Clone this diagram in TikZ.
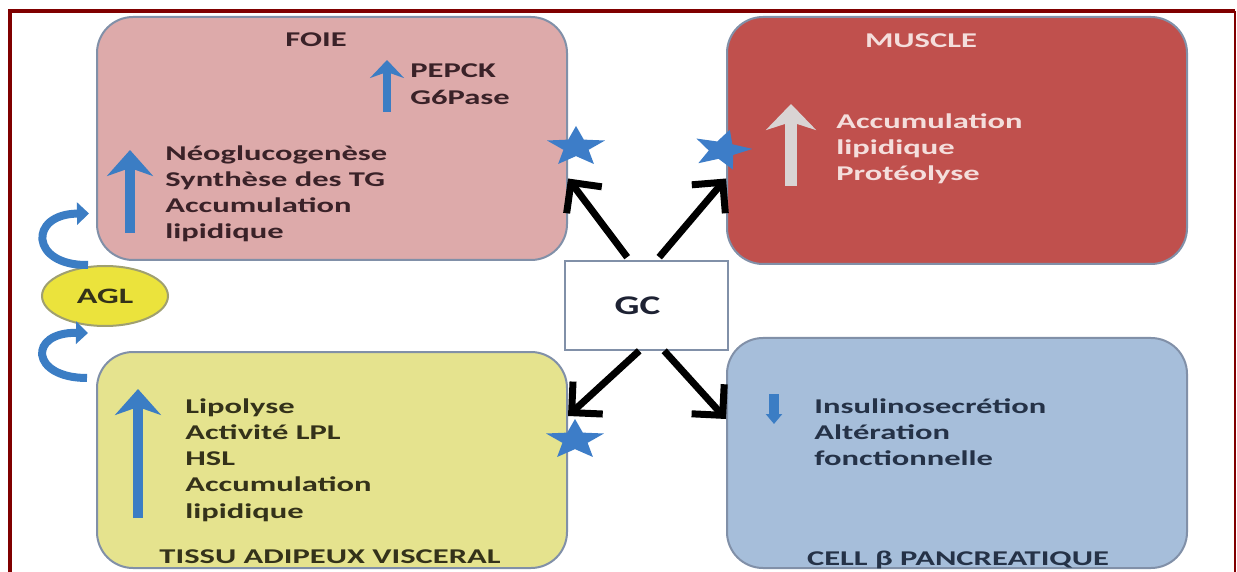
\documentclass[tikz,border=0pt]{standalone}
\usepackage{fontspec}
\newfontfamily\figfont{Carlito}[FakeStretch=1.55]
\newfontfamily\gcfont{Carlito}[FakeStretch=1.45]
\usetikzlibrary{arrows.meta,shapes.geometric,calc}

\definecolor{framered}{HTML}{800000}
\definecolor{boxline}{HTML}{8190A8}
\definecolor{foiefill}{HTML}{DDAAAA}
\definecolor{musclefill}{HTML}{C0504D}
\definecolor{tissufill}{HTML}{E5E38E}
\definecolor{cellfill}{HTML}{A6BEDA}
\definecolor{foietext}{HTML}{3A2228}
\definecolor{tissutext}{HTML}{34321A}
\definecolor{celltext}{HTML}{253247}
\definecolor{muscletext}{HTML}{F4DEDC}
\definecolor{arrowblue}{HTML}{3B7DC4}
\definecolor{starblue}{HTML}{3D7DC8}
\definecolor{palegrey}{HTML}{D9D4D4}
\definecolor{aglfill}{HTML}{EBE33C}
\definecolor{aglline}{HTML}{A0A070}
\definecolor{gctext}{HTML}{1E2233}

\begin{document}
\begin{tikzpicture}[x=0.5pt,y=-0.5pt,
  organ/.style={draw=boxline, line width=1pt, rounded corners=18pt, inner sep=0pt},
  txt/.style={font=\figfont\bfseries\fontsize{10.5}{12.6}\selectfont, inner sep=0pt, anchor=base west},
  title/.style={txt, anchor=base},
  blockarrow/.style={draw=arrowblue, line width=5pt, -{Stealth[length=13pt,width=23pt,inset=4pt]}},
  gcarrow/.style={draw=black, line width=3.5pt, -{Straight Barb[length=11pt,width=22pt]}},
  starmark/.style={star, star points=5, star point ratio=2.3, fill=starblue, inner sep=0pt, minimum size=21pt, xscale=1.45},
  loopback/.style={draw=arrowblue, line width=4pt, -{Triangle[length=6pt,width=11pt]}},
]
\useasboundingbox (0,0) rectangle (1237,572);
\fill[white] (0,0) rectangle (1237,572);

% outer frame
\draw[framered, line width=2pt] (10,572) -- (10,11) -- (1235,11);
\draw[framered, line width=1pt] (1235,11) -- (1235,572);

% organ boxes
\node[organ, fill=foiefill, minimum width=235pt, minimum height=121.5pt] (foie) at (332,138.5) {};
\node[organ, fill=musclefill, minimum width=230pt, minimum height=123.5pt] (muscle) at (957,140.5) {};
\node[organ, fill=tissufill, minimum width=235pt, minimum height=108pt] (tissu) at (332,460) {};
\node[organ, fill=cellfill, minimum width=230pt, minimum height=115pt] (cell) at (957,453) {};

% glucocorticoid box
\node[draw=boxline, line width=0.8pt, fill=white, minimum width=81.5pt, minimum height=44.5pt, inner sep=0pt,
      label={[font=\gcfont\bfseries\fontsize{13.5}{15}\selectfont, text=gctext, xshift=-4.5pt]center:GC}] (gc) at (646.5,305.5) {};

% free fatty acids
\node[ellipse, draw=aglline, line width=1pt, fill=aglfill, minimum width=63pt, minimum height=30pt, inner sep=0pt,
      font=\figfont\bfseries\fontsize{11}{13}\selectfont, text=tissutext] (agl) at (105,296) {AGL};

% FOIE
\node[title, text=foietext] (foieT) at (316,47) {FOIE};
\draw[blockarrow, line width=4pt, -{Stealth[length=9pt,width=17pt,inset=3pt]}] (387,112) -- (387,60);
\node[txt, text=foietext] (foieE1) at (410,78) {PEPCK};
\node[txt, text=foietext] (foieE2) at (410,105) {G6Pase};
\draw[blockarrow] (130,233) -- (130,150);
\foreach \t [count=\i] in {Néoglucogenèse, Synthèse des TG, Accumulation, lipidique}
  \node[txt, text=foietext] (foieL\i) at (165,{135+26*\i}) {\t};

% MUSCLE
\node[title, text=muscletext] (muscleT) at (921,48) {MUSCLE};
\draw[blockarrow, draw=palegrey, line width=6pt, -{Stealth[length=13pt,width=25pt,inset=4pt]}] (791,186) -- (791,104);
\foreach \t [count=\i] in {Accumulation, lipidique, Protéolyse}
  \node[txt, text=muscletext] (muscleL\i) at (836,{103+26*\i}) {\t};

% TISSU ADIPEUX
\draw[blockarrow] (138,518) -- (138,389);
\foreach \t [count=\i] in {Lipolyse, Activité LPL, HSL, Accumulation, lipidique}
  \node[txt, text=tissutext] (tissuL\i) at (185,{387+26.2*\i}) {\t};
\node[title, text=tissutext] (tissuT) at (330,563) {TISSU ADIPEUX VISCERAL};

% CELL BETA
\draw[blockarrow, line width=5pt, -{Triangle[length=5pt,width=8pt]}] (774,394) -- (774,424);
\foreach \t [count=\i] in {Insulinosecrétion, Altération, fonctionnelle}
  \node[txt, text=celltext] (cellL\i) at (814,{387+26*\i}) {\t};
\node[title, text=celltext] (cellT) at (958,565) {CELL β PANCREATIQUE};

% effects of GC on each tissue
\draw[gcarrow] ($(gc.north west)+(63,-3)$) -- ($(foie.east)+(0,40)$);
\draw[gcarrow] ($(gc.north west)+(95,-3)$) -- ($(muscle.west)+(0,38)$);
\draw[gcarrow] ($(gc.south west)+(75,0)$) -- ($(tissu.east)+(0,-44)$);
\draw[gcarrow] ($(gc.south west)+(100,0)$) -- ($(cell.west)+(0,-34)$);

% stars
\node[starmark] (star1) at (576,147) {};
\node[starmark, rotate=-15] (star2) at (722,150) {};
\node[starmark] (star3) at (575,440) {};

% fatty acid flux: adipose -> AGL -> liver
\draw[loopback] ($(tissu.west)+(-9,-82)$) .. controls (30,378) and (28,332) .. ($(agl.south)+(-17,6)$);
\draw[loopback] ($(agl.north)+(-17,0)$) .. controls (30,266) and (28,214) .. ($(foie.west)+(-7,75)$);
\end{tikzpicture}
\end{document}
